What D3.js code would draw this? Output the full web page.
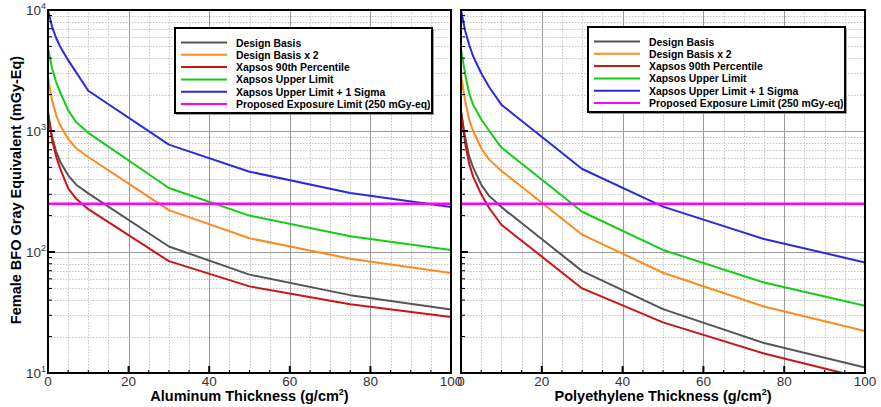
<!DOCTYPE html>
<html><head><meta charset="utf-8">
<script src="https://cdn.jsdelivr.net/npm/d3@7"></script>
<style>
html,body{margin:0;padding:0;background:#fff;}
svg{display:block;font-family:"Liberation Sans",Arial,sans-serif;}
</style></head>
<body><svg id="c" width="881" height="407"></svg>
<script>
// ---------- data ----------
const thickness = [0, 1, 2, 3, 5, 7, 10, 30, 50, 75, 100];

const alDesign   = [1370, 900, 680, 560, 430, 360, 305, 111, 65, 44, 33.5];
const alDesign2  = [2740, 1800, 1360, 1120, 860, 720, 610, 222, 130, 88, 67];
const alX90      = [1450, 850, 620, 490, 335, 275, 226, 84, 52, 37, 29];
const alUpper    = [4850, 3300, 2550, 2100, 1480, 1180, 965, 338, 200, 135, 104];
const alUpper1s  = [10000, 7300, 5900, 5000, 3850, 3050, 2150, 771, 461, 307, 235];

const peDesign   = [1460, 900, 620, 500, 360, 290, 235, 69.5, 33.7, 17.7, 11.1];
const peDesign2  = [2920, 1800, 1240, 1000, 720, 580, 470, 139, 67.4, 35.4, 22.2];
const peX90      = [1450, 800, 540, 420, 300, 230, 168, 50, 26.2, 14.5, 9];
const peUpper    = [4700, 3000, 2050, 1650, 1250, 1000, 730, 215, 104, 56, 36];
const peUpper1s  = [10000, 6800, 5200, 4150, 3000, 2300, 1650, 485, 237, 128, 82];

const exposureLimit = 250;

const seriesNames = ["Design Basis", "Design Basis x 2", "Xapsos 90th Percentile",
  "Xapsos Upper Limit", "Xapsos Upper Limit + 1 Sigma", "Proposed Exposure Limit (250 mGy-eq)"];
const seriesColors = ["#555555", "#ff8a1c", "#cc1414", "#14cc14", "#2a2ae0", "#ff00ff"];

const xTicks = [0, 20, 40, 60, 80, 100];
const yDecades = [10, 100, 1000, 10000];
const yExponents = ["1", "2", "3", "4"];
const xTitles = ["Aluminum Thickness (g/cm", "Polyethylene Thickness (g/cm"];
const yTitle = "Female BFO Gray Equivalent (mGy-Eq)";

// ---------- layout ----------
const svg = d3.select("#c");
const plotTop = 10, plotBottom = 373;
const panels = [
  {x0: 48, x1: 451, series: [alDesign, alDesign2, alX90, alUpper, alUpper1s], legend: {x: 175, y: 28}, labels: true, title: xTitles[0]},
  {x0: 461, x1: 865, series: [peDesign, peDesign2, peX90, peUpper, peUpper1s], legend: {x: 588, y: 27}, labels: false, title: xTitles[1]}
];
const y = d3.scaleLog().domain([10, 10000]).range([plotBottom, plotTop]);

const minorY = [];
for (let d = 10; d < 10000; d *= 10) for (let m = 2; m <= 9; m++) minorY.push(d * m);
const minorX = d3.range(5, 100, 5).filter(v => v % 20 !== 0);

panels.forEach((p, i) => {
  const x = d3.scaleLinear().domain([0, 100]).range([p.x0, p.x1]);
  const g = svg.append("g");
  const cid = "clip" + i;
  svg.append("clipPath").attr("id", cid).append("rect")
    .attr("x", p.x0).attr("y", plotTop).attr("width", p.x1 - p.x0).attr("height", plotBottom - plotTop);

  // minor grid
  g.selectAll(".mgx").data(minorX).join("line")
    .attr("x1", d => Math.round(x(d)) + 0.5).attr("x2", d => Math.round(x(d)) + 0.5).attr("y1", plotTop).attr("y2", plotBottom)
    .attr("stroke", "#c4c4c4").attr("stroke-width", 1).attr("stroke-dasharray", "1.5,1.5");
  g.selectAll(".mgy").data(minorY).join("line")
    .attr("x1", p.x0).attr("x2", p.x1).attr("y1", d => Math.round(y(d)) + 0.5).attr("y2", d => Math.round(y(d)) + 0.5)
    .attr("stroke", "#c4c4c4").attr("stroke-width", 1).attr("stroke-dasharray", "1.5,1.5");
  // major grid
  g.selectAll(".Mgx").data(xTicks.slice(1, -1)).join("line")
    .attr("x1", d => Math.round(x(d)) + 0.5).attr("x2", d => Math.round(x(d)) + 0.5).attr("y1", plotTop).attr("y2", plotBottom)
    .attr("stroke", "#9a9a9a").attr("stroke-width", 1);
  g.selectAll(".Mgy").data(yDecades.slice(1, -1)).join("line")
    .attr("x1", p.x0).attr("x2", p.x1).attr("y1", d => Math.round(y(d)) + 0.5).attr("y2", d => Math.round(y(d)) + 0.5)
    .attr("stroke", "#9a9a9a").attr("stroke-width", 1);

  // series lines
  const line = d3.line().x((d, k) => x(thickness[k])).y(d => y(d));
  const lg = g.append("g").attr("clip-path", `url(#${cid})`);
  [4, 3, 1, 0, 2].forEach(s => {
    lg.append("path").attr("d", line(p.series[s])).attr("fill", "none")
      .attr("stroke", seriesColors[s]).attr("stroke-width", 2).attr("stroke-linejoin", "round");
  });
  lg.append("line").attr("x1", x(0)).attr("x2", x(100)).attr("y1", y(exposureLimit)).attr("y2", y(exposureLimit))
    .attr("stroke", seriesColors[5]).attr("stroke-width", 2.5);

  // ticks (inward)
  g.selectAll(".tx").data(xTicks.slice(1, -1)).join("line")
    .attr("x1", d => x(d)).attr("x2", d => x(d)).attr("y1", plotBottom).attr("y2", plotBottom - 7)
    .attr("stroke", "#000").attr("stroke-width", 2);
  g.selectAll(".tmx").data(minorX).join("line")
    .attr("x1", d => x(d)).attr("x2", d => x(d)).attr("y1", plotBottom).attr("y2", plotBottom - 3)
    .attr("stroke", "#000").attr("stroke-width", 1);
  g.selectAll(".ty").data(yDecades.slice(1, -1)).join("line")
    .attr("x1", p.x0).attr("x2", p.x0 + 7).attr("y1", d => y(d)).attr("y2", d => y(d))
    .attr("stroke", "#000").attr("stroke-width", 2);
  g.selectAll(".tmy").data(minorY).join("line")
    .attr("x1", p.x0).attr("x2", p.x0 + 4).attr("y1", d => y(d)).attr("y2", d => y(d))
    .attr("stroke", "#000").attr("stroke-width", 1);

  // frame
  g.append("rect").attr("x", p.x0).attr("y", plotTop).attr("width", p.x1 - p.x0).attr("height", plotBottom - plotTop)
    .attr("fill", "none").attr("stroke", "#000").attr("stroke-width", 2);

  // x tick labels
  g.selectAll(".lx").data(xTicks).join("text")
    .attr("x", d => x(d)).attr("y", 386).attr("text-anchor", "middle")
    .attr("font-size", 13.5).attr("fill", "#333").text(d => d);

  // y tick labels
  if (p.labels) {
    yDecades.forEach((d, k) => {
      const t = g.append("text").attr("x", p.x0 - 2).attr("y", y(d) + 5).attr("text-anchor", "end")
        .attr("font-size", 13.5).attr("fill", "#333");
      t.append("tspan").text("10");
      t.append("tspan").attr("dy", -6).attr("font-size", 9).text(yExponents[k]);
    });
  }

  // x title
  const xt = g.append("text").attr("x", (p.x0 + p.x1) / 2).attr("y", 401).attr("text-anchor", "middle")
    .attr("font-size", 14.5).attr("font-weight", "bold").attr("fill", "#000");
  xt.append("tspan").text(p.title);
  xt.append("tspan").attr("dy", -6).attr("font-size", 9).text("2");
  xt.append("tspan").attr("dy", 6).text(")");

  // legend
  const L = p.legend;
  const lgd = g.append("g");
  lgd.append("rect").attr("x", L.x + 1).attr("y", L.y + 1).attr("width", 258).attr("height", 86)
    .attr("fill", "#999");
  lgd.append("rect").attr("x", L.x).attr("y", L.y).attr("width", 257).attr("height", 85)
    .attr("fill", "#fff").attr("stroke", "#000").attr("stroke-width", 2);
  seriesNames.forEach((name, k) => {
    const ry = L.y + 14.5 + k * 12.3;
    lgd.append("line").attr("x1", L.x + 6).attr("x2", L.x + 52).attr("y1", ry).attr("y2", ry)
      .attr("stroke", seriesColors[k]).attr("stroke-width", 2);
    lgd.append("text").attr("x", L.x + 61).attr("y", ry + 4).attr("font-size", 10.4)
      .attr("font-weight", "bold").attr("fill", "#000").text(name);
  });
});

// y title
svg.append("text").attr("transform", "translate(21,190) rotate(-90)").attr("text-anchor", "middle")
  .attr("font-size", 14.5).attr("font-weight", "bold").attr("fill", "#000").text(yTitle);
</script></body></html>
